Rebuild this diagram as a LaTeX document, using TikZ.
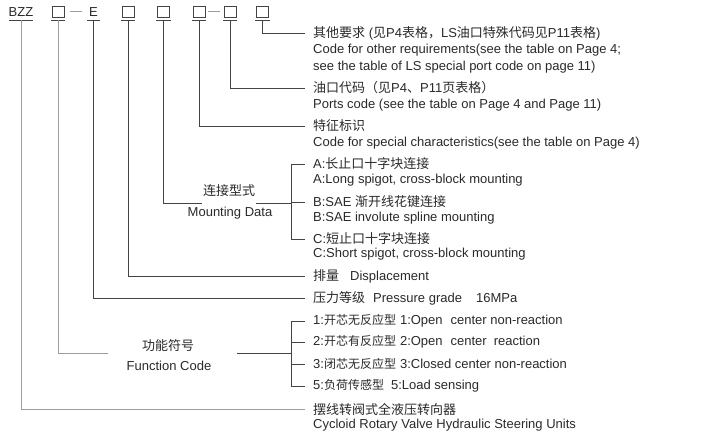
\documentclass[tikz,border=0pt]{standalone}
\usepackage{fontspec}
\setmainfont{Liberation Sans}
\newfontfamily\cjkfont{Noto Sans CJK SC}
\usepackage{tikz}
\usetikzlibrary{calc}

\definecolor{txtc}{HTML}{2A2A2A}
\definecolor{linec}{HTML}{444444}
\definecolor{lightc}{HTML}{9C9C9C}

% Chinese part of a label
\newcommand{\zh}[1]{{\cjkfont\fontsize{13pt}{15pt}\selectfont #1}}
\newcommand{\zhs}[1]{{\cjkfont\fontsize{12pt}{14pt}\selectfont #1}}

\tikzset{
  code/.style={inner sep=0pt, minimum height=10pt, text=txtc, font=\fontsize{13pt}{15pt}\selectfont},
  codebox/.style={draw=linec, line width=0.6pt, minimum width=11.6pt, minimum height=10.4pt, inner sep=0pt},
  desc/.style={anchor=west, inner xsep=8pt, inner ysep=0pt, text=txtc, font=\fontsize{13pt}{15pt}\selectfont},
  caption/.style={inner xsep=1pt, inner ysep=0pt, text=txtc, font=\fontsize{13pt}{15pt}\selectfont},
  lead/.style={draw=linec, line width=0.7pt},
  leadlight/.style={draw=lightc, line width=0.8pt}
}

\begin{document}
\begin{tikzpicture}[x=1pt, y=-1pt]
  % Fix the page size
  \fill[white] (0,0) rectangle (702,442);
  \useasboundingbox (0,0) rectangle (702,442);

  % Draw the model code on the top row
  \node[code] (bzz) at (21,12.5) {BZZ};
  \node[codebox] (c1) at (58.3,11.7) {};
  \node[code, minimum width=13pt] (e) at (93.5,12.5) {E};
  \node[codebox] (c2) at (128.2,11.7) {};
  \node[codebox] (c3) at (163.5,11.7) {};
  \node[codebox] (c4) at (199.2,11.7) {};
  \node[codebox] (c5) at (230.2,11.7) {};
  \node[codebox] (c6) at (262.5,11.7) {};

  % Draw the dashes between the fields
  \draw[leadlight, shorten <=5.8pt, shorten >=5pt] (c1.east) -- (e.west |- c1.east);
  \draw[leadlight, shorten <=2.2pt, shorten >=4pt] (c4.east) -- (c5.west);

  % Underline every field
  \foreach \n in {c1,c2,c3,c4,c5,c6}
    \draw[lead] ($(\n.west |- 0,20)+(-1,0)$) -- ($(\n.east |- 0,20)+(1,0)$);
  \foreach \n in {bzz,e}
    \draw[lead] (\n.west |- 0,20) -- (\n.east |- 0,20);

  % Descriptions on the right
  \node[desc] (t6z) at (305,33) {\zh{其他要求} (\zh{见}P4\zh{表格，}LS\zh{油口特殊代码见}P11\zh{表格})};
  \node[desc] (t6a) at (305,50) {Code for other requirements(see the table on Page 4;};
  \node[desc] (t6b) at (305,67) {see the table of LS special port code on page 11)};
  \node[desc] (t5z) at (305,88) {\zh{油口代码（见}P4\zh{、}P11\zh{页表格）}};
  \node[desc] (t5a) at (305,105) {Ports code (see the table on Page 4 and Page 11)};
  \node[desc] (t4z) at (305,126) {\zh{特征标识}};
  \node[desc] (t4a) at (305,143) {Code for special characteristics(see the table on Page 4)};

  \node[desc] (mAz) at (305,164) {A:\zh{长止口十字块连接}};
  \node[desc] (mAe) at (305,180) {A:Long spigot, cross-block mounting};
  \node[desc] (mBz) at (305,202) {B:SAE \zh{渐开线花键连接}};
  \node[desc] (mBe) at (305,218) {B:SAE involute spline mounting};
  \node[desc] (mCz) at (305,239) {C:\zh{短止口十字块连接}};
  \node[desc] (mCe) at (305,254) {C:Short spigot, cross-block mounting};

  \node[desc] (disp) at (305,276) {\zh{排量}\hspace{11pt}Displacement};
  \node[desc] (pres) at (305,298) {\zh{压力等级}\hspace{8pt}Pressure grade\hspace{14pt}16MPa};

  \node[desc] (f1) at (305,321) {1:\zhs{开芯无反应型}\hspace{4pt}1:Open\hspace{8pt}center non-reaction};
  \node[desc] (f2) at (305,342) {2:\zhs{开芯有反应型}\hspace{4pt}2:Open\hspace{8pt}center\hspace{7pt}reaction};
  \node[desc] (f3) at (305,364) {3:\zhs{闭芯无反应型}\hspace{4pt}3:Closed center non-reaction};
  \node[desc] (f5) at (305,386) {5:\zhs{负荷传感型}\hspace{7pt}5:Load sensing};

  \node[desc] (unz) at (305,409) {\zh{摆线转阀式全液压转向器}};
  \node[desc] (une) at (305,425) {Cycloid Rotary Valve Hydraulic Steering Units};

  % Group captions
  \node[caption] (mz) at (229,191) {\zh{连接型式}};
  \node[caption] (me) at (230,213) {Mounting Data};
  \node[caption] (fz) at (168,346) {\zh{功能符号}};
  \node[caption] (fe) at (169,366) {Function Code};

  \coordinate (mjoin) at (291,203);
  \coordinate (fl) at (108,353);
  \coordinate (fr) at (237,353);
  \coordinate (fjoin) at (291,353);

  % Leaders from the fields to their descriptions
  \draw[lead] (c6 |- 0,20) |- (t6z.west);
  \draw[lead] (c5 |- 0,20) |- (t5z.west);
  \draw[lead] (c4 |- 0,20) |- (t4z.west);
  \draw[lead] (c3 |- 0,20) |- (mz.west |- mjoin);
  \draw[lead] (c2 |- 0,20) |- (disp.west);
  \draw[lead] (e |- 0,20) |- (pres.west);
  \draw[leadlight] (c1 |- 0,20) |- (fl);
  \draw[leadlight] (bzz |- 0,20) |- (unz.west);

  % Mounting bracket
  \draw[lead] (mz.east |- mjoin) -- (mjoin);
  \draw[lead] (mAz.west -| mjoin) -- (mCz.west -| mjoin);
  \foreach \t in {mAz,mBz,mCz}
    \draw[lead] (\t.west -| mjoin) -- (\t.west);

  % Function bracket
  \draw[lead] (fr) -- (fjoin);
  \draw[lead] (f1.west -| fjoin) -- (f5.west -| fjoin);
  \foreach \t in {f1,f2,f3,f5}
    \draw[lead] (\t.west -| fjoin) -- (\t.west);
\end{tikzpicture}
\end{document}
